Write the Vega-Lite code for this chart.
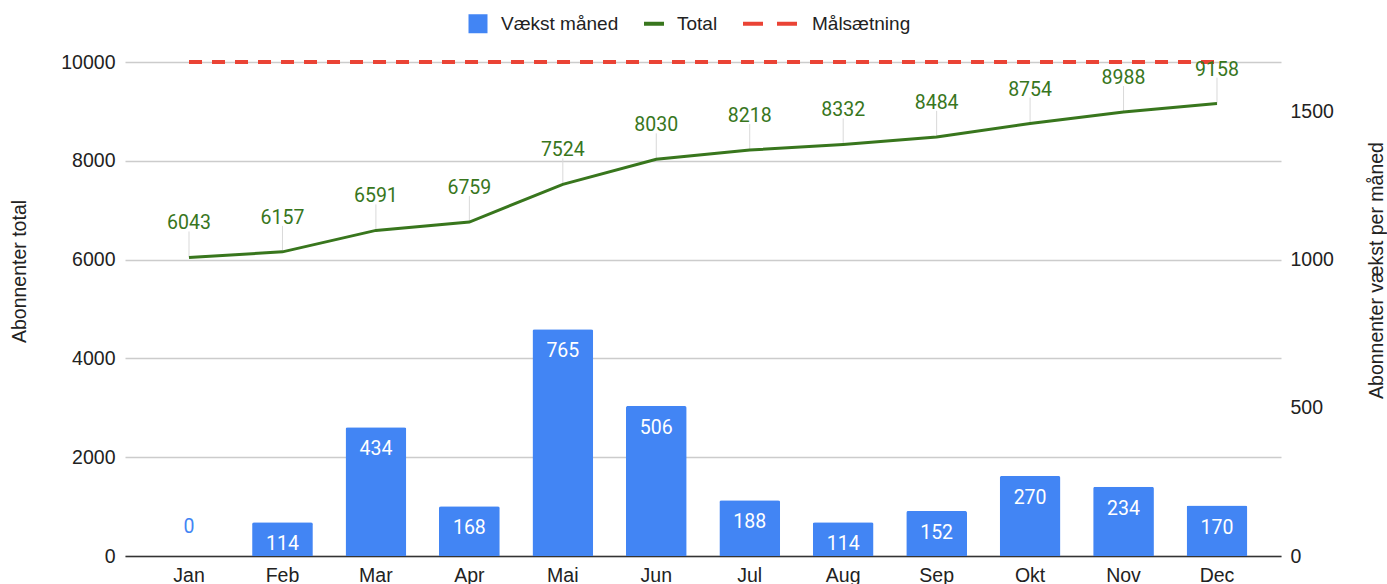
{
  "$schema": "https://vega.github.io/schema/vega-lite/v6.json",
  "width": 1156,
  "height": 494,
  "autosize": {"type": "none"},
  "padding": {"left": 125, "top": 62, "right": 106, "bottom": 28},
  "background": "white",
  "config": {
    "view": {"stroke": null},
    "font": "Liberation Sans",
    "axis": {"labelFont": "Liberation Sans", "labelFontSize": 19.5, "labelColor": "#222222", "titleFont": "Liberation Sans", "titleFontSize": 19.5, "titleFontWeight": "normal", "titleColor": "#222222"}
  },
  "data": {
    "values": [
      {"month": "Jan", "vaekst": 0, "total": 6043, "maal": 10000},
      {"month": "Feb", "vaekst": 114, "total": 6157, "maal": 10000},
      {"month": "Mar", "vaekst": 434, "total": 6591, "maal": 10000},
      {"month": "Apr", "vaekst": 168, "total": 6759, "maal": 10000},
      {"month": "Mai", "vaekst": 765, "total": 7524, "maal": 10000},
      {"month": "Jun", "vaekst": 506, "total": 8030, "maal": 10000},
      {"month": "Jul", "vaekst": 188, "total": 8218, "maal": 10000},
      {"month": "Aug", "vaekst": 114, "total": 8332, "maal": 10000},
      {"month": "Sep", "vaekst": 152, "total": 8484, "maal": 10000},
      {"month": "Okt", "vaekst": 270, "total": 8754, "maal": 10000},
      {"month": "Nov", "vaekst": 234, "total": 8988, "maal": 10000},
      {"month": "Dec", "vaekst": 170, "total": 9158, "maal": 10000}
    ]
  },
  "encoding": {
    "x": {
      "field": "month", "type": "nominal", "sort": null,
      "scale": {"paddingInner": 0.35, "paddingOuter": 0.36},
      "axis": {"title": null, "labelAngle": 0, "ticks": false, "domainColor": "#333333", "domainWidth": 1.5, "labelPadding": 10, "grid": false}
    }
  },
  "layer": [
    {
      "layer": [
        {
          "mark": {"type": "bar", "cornerRadiusTopLeft": 2, "cornerRadiusTopRight": 2, "minBandSize": 1},
          "encoding": {
            "y": {
              "field": "vaekst", "type": "quantitative",
              "scale": {"domain": [0, 1666.667], "nice": false, "zero": true},
              "axis": {"orient": "right", "title": "Abonnenter vækst per måned", "values": [0, 500, 1000, 1500], "format": "d", "grid": false, "ticks": false, "domain": false, "labelPadding": 9, "titleAngle": -90, "titleX": 95, "titleY": 208, "titleAlign": "center", "titleBaseline": "middle"}
            },
            "color": {
              "datum": "Vækst måned", "type": "nominal",
              "scale": {"domain": ["Vækst måned", "Total", "Målsætning"], "range": ["#4285f4", "#38761d", "#ea4335"]},
              "legend": {
                "title": null, "orient": "none", "direction": "horizontal", "legendX": 343, "legendY": -48,
                "symbolSize": 400, "labelFontSize": 19, "labelFont": "Liberation Sans", "labelColor": "#222222", "columnPadding": 17, "labelOffset": 13,
                "encode": {
                  "symbols": {"update": {
                    "shape": {"signal": "datum.value === 'Vækst måned' ? 'square' : 'stroke'"},
                    "size": {"signal": "datum.value === 'Målsætning' ? 3025 : datum.value === 'Total' ? 400 : 361"},
                    "strokeDash": {"signal": "datum.value === 'Målsætning' ? [20,14] : [1,0]"},
                    "strokeWidth": {"signal": "datum.value === 'Vækst måned' ? 0 : 4"},
                    "fill": {"signal": "datum.value === 'Vækst måned' ? '#4285f4' : 'transparent'"},
                    "stroke": {"signal": "datum.value === 'Vækst måned' ? '#4285f4' : datum.value === 'Total' ? '#38761d' : '#ea4335'"},
                    "opacity": {"value": 1},
                    "x": {"signal": "datum.value === 'Målsætning' ? 27.5 : 10"}
                  }},
                  "labels": {"update": {"x": {"signal": "datum.value === 'Målsætning' ? 69 : 33"}}}
                }
              }
            }
          }
        },
        {
          "transform": [{"filter": "datum.vaekst >= 50"}],
          "mark": {"type": "text", "font": "Roboto", "fontSize": 19.5, "color": "white", "baseline": "alphabetic", "dy": 28},
          "encoding": {
            "y": {"field": "vaekst", "type": "quantitative"},
            "text": {"field": "vaekst", "type": "quantitative"}
          }
        },
        {
          "transform": [{"filter": "datum.vaekst < 50"}],
          "mark": {"type": "text", "font": "Roboto", "fontSize": 19.5, "color": "#4285f4", "baseline": "alphabetic", "dy": -23},
          "encoding": {
            "y": {"field": "vaekst", "type": "quantitative"},
            "text": {"field": "vaekst", "type": "quantitative"}
          }
        }
      ]
    },
    {
      "layer": [
        {
          "mark": {"type": "line", "color": "#ea4335", "strokeWidth": 4, "strokeDash": [13, 10]},
          "encoding": {
            "y": {"field": "maal", "type": "quantitative"},
            "color": {"datum": "Målsætning", "type": "nominal"}
          }
        },
        {
          "mark": {"type": "rule", "color": "#d9d9d9", "strokeWidth": 1, "y2Offset": -26},
          "encoding": {
            "y": {"field": "total", "type": "quantitative"},
            "y2": {"field": "total"}
          }
        },
        {
          "mark": {"type": "line", "strokeWidth": 3},
          "encoding": {
            "y": {
              "field": "total", "type": "quantitative",
              "scale": {"domain": [0, 10000], "nice": false},
              "axis": {"orient": "left", "title": "Abonnenter total", "values": [0, 2000, 4000, 6000, 8000, 10000], "format": "d", "grid": true, "gridColor": "#cccccc", "gridWidth": 1.5, "ticks": false, "domain": false, "labelPadding": 10, "titleAngle": -90, "titleX": -106, "titleY": 209, "titleAlign": "center", "titleBaseline": "middle"}
            },
            "color": {"datum": "Total", "type": "nominal"}
          }
        },
        {
          "mark": {"type": "text", "font": "Roboto", "fontSize": 19.5, "color": "#38761d", "baseline": "alphabetic", "dy": -28},
          "encoding": {
            "y": {"field": "total", "type": "quantitative"},
            "text": {"field": "total", "type": "quantitative", "format": "d"}
          }
        }
      ]
    }
  ],
  "resolve": {"scale": {"y": "independent"}}
}
